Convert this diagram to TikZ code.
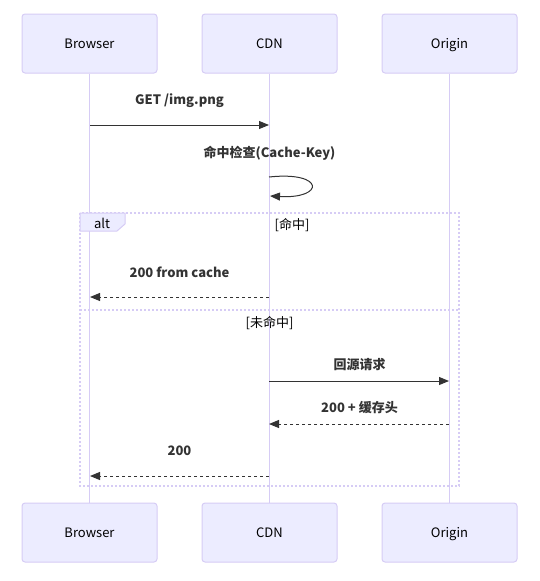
\documentclass[tikz,border=0pt]{standalone}
\usepackage{fontspec}
\setmainfont{Noto Sans CJK SC}
\usetikzlibrary{arrows.meta}
\definecolor{actfill}{HTML}{ECECFF}
\definecolor{actline}{HTML}{D6CCF5}
\definecolor{msg}{HTML}{333333}
\tikzset{
  actor/.style={draw=actline, fill=actfill, line width=1pt, rounded corners=3pt, minimum width=135pt, minimum height=59pt, font=\fontsize{13}{15}\selectfont, text=black, text height=13pt, text depth=3pt},
  life/.style={draw=actline, line width=1.6pt},
  msgtext/.style={font=\bfseries\fontsize{13}{15}\selectfont, text=msg},
  solidmsg/.style={draw=msg, line width=1pt, -{Triangle[length=10pt,width=8pt]}},
  dashmsg/.style={draw=msg, line width=1pt, dash pattern=on 3pt off 3pt, -{Triangle[length=10pt,width=8pt]}},
  altbox/.style={draw=actline, line width=1.5pt, dash pattern=on 2pt off 2pt},
  guard/.style={font=\fontsize{13}{15}\selectfont, text=black},
}
\begin{document}
\begin{tikzpicture}[x=1pt,y=-1pt]
\useasboundingbox (0,0) rectangle (540,581);
% actors
\node[actor] (bt) at (89.5,43.5) {Browser};
\node[actor] (ct) at (269.5,43.5) {CDN};
\node[actor] (ot) at (449.5,43.5) {Origin};
\node[actor] (bb) at (89.5,532.5) {Browser};
\node[actor] (cb) at (269.5,532.5) {CDN};
\node[actor] (ob) at (449.5,532.5) {Origin};
% lifelines
\draw[life] (bt.south) -- (bb.north);
\draw[life] (ct.south) -- (cb.north);
\draw[life] (ot.south) -- (ob.north);
% alt box
\draw[altbox] (80,213) rectangle (459,486);
\draw[altbox] (80,310) -- (459,310);
\fill[actfill] (80,213) -- (125,213) -- (125,224) -- (117,231) -- (80,231) -- cycle;
\draw[actline, line width=1pt] (80,213) -- (125,213) -- (125,224) -- (117,231) -- (80,231) -- cycle;
\node[guard] (alt) at (102,223.5) {alt};
\node[guard] (hit) at (292,225) {[命中]};
\node[guard] (miss) at (269.5,323) {[未命中]};
% message endpoints
\coordinate (m1s) at (90,125);
\coordinate (m1e) at (269,125);
\coordinate (m2s) at (269,177);
\coordinate (m2e) at (270,196);
\coordinate (m3s) at (269,297);
\coordinate (m3e) at (90,297);
\coordinate (m4s) at (269,381);
\coordinate (m4e) at (449,381);
\coordinate (m5s) at (449,424);
\coordinate (m5e) at (269,424);
\coordinate (m6s) at (269,476);
\coordinate (m6e) at (90,476);
% messages
\node[msgtext] (t1) at (179.5,101) {GET /img.png};
\draw[solidmsg] (m1s) -- (m1e);
\node[msgtext] (t2) at (269.5,153) {命中检查(Cache-Key)};
\draw[solidmsg] (m2s) .. controls (325,171) and (325,199) .. (m2e);
\node[msgtext] (t3) at (179.5,272) {200 from cache};
\draw[dashmsg] (m3s) -- (m3e);
\node[msgtext] (t4) at (359.5,365) {回源请求};
\draw[solidmsg] (m4s) -- (m4e);
\node[msgtext] (t5) at (359.5,408) {200 + 缓存头};
\draw[dashmsg] (m5s) -- (m5e);
\node[msgtext] (t6) at (179.5,451) {200};
\draw[dashmsg] (m6s) -- (m6e);
\end{tikzpicture}
\end{document}
